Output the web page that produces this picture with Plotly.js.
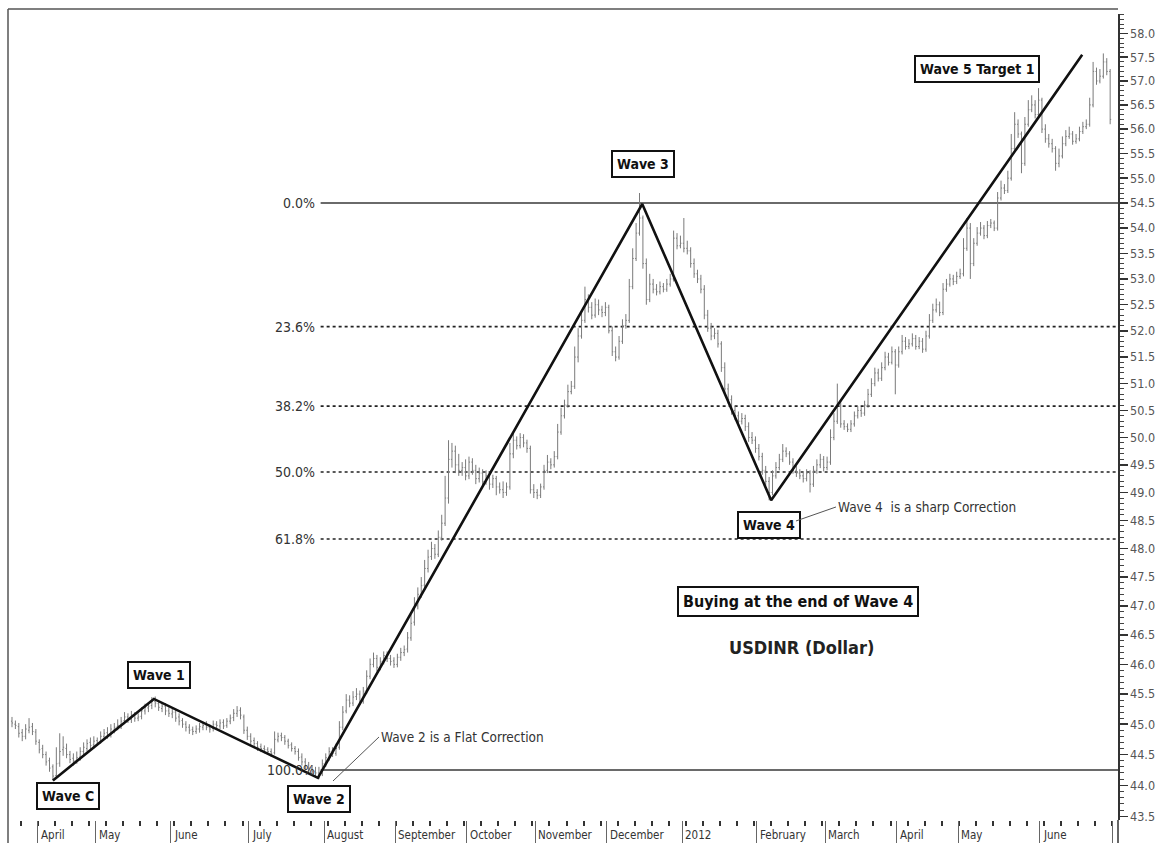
<!DOCTYPE html>
<html><head><meta charset="utf-8">
<script src="https://cdn.plot.ly/plotly-3.0.1.min.js"></script>
<style>html,body{margin:0;padding:0;background:#fff}#chart{width:1159px;height:843px}</style>
</head><body><div id="chart"></div>
<script>
// ---- DATA (USDINR daily bars, trading-day index order, late Mar 2011 .. end Jun 2012) ----
const openP = [45.05,45.00,44.96,44.86,44.80,44.90,44.96,44.87,44.70,44.60,
44.50,44.40,44.30,44.16,44.36,44.58,44.60,44.50,44.44,44.40,
44.46,44.55,44.60,44.70,44.66,44.73,44.72,44.80,44.86,44.83,
44.90,44.96,44.98,45.06,45.12,45.08,45.15,45.10,45.13,45.22,
45.27,45.31,45.38,45.34,45.26,45.30,45.22,45.17,45.20,45.12,
45.06,45.00,44.95,44.91,44.88,44.92,44.95,44.99,44.95,44.93,
45.00,44.97,45.03,44.98,45.05,45.11,45.18,45.23,45.12,44.90,
44.80,44.73,44.68,44.63,44.60,44.58,44.55,44.53,44.74,44.81,
44.78,44.72,44.66,44.60,44.55,44.46,44.38,44.33,44.28,44.23,
44.20,44.19,44.36,44.45,44.56,44.52,44.62,44.95,45.22,45.40,
45.35,45.46,45.50,45.38,45.56,45.80,46.00,46.10,45.95,46.06,
46.15,46.10,46.06,46.00,46.12,46.20,46.26,46.45,46.72,47.00,
47.20,47.36,47.65,47.86,48.00,47.90,48.20,48.45,48.90,49.60,
49.75,49.50,49.40,49.45,49.30,49.55,49.40,49.25,49.35,49.20,
49.30,49.15,49.25,49.10,49.05,49.00,49.10,49.70,49.95,49.85,
50.00,49.90,49.80,49.05,49.00,48.95,49.10,49.40,49.55,49.50,
49.65,50.10,50.40,50.60,50.85,50.95,51.50,51.90,52.20,52.60,
52.45,52.30,52.50,52.40,52.35,52.45,52.00,51.60,51.50,51.80,
52.10,52.20,52.85,53.40,53.90,54.20,53.30,52.60,52.90,52.80,
52.75,52.85,52.80,52.90,53.00,53.80,53.65,53.70,53.60,53.55,
53.30,53.10,53.00,52.80,52.30,52.05,51.90,51.95,51.75,51.30,
50.90,50.70,50.50,50.40,50.30,50.35,50.20,50.00,49.95,49.80,
49.65,49.40,49.20,49.00,49.30,49.45,49.60,49.75,49.70,49.55,
49.40,49.35,49.30,49.25,49.35,49.15,49.40,49.50,49.60,49.45,
49.55,50.00,50.30,50.60,50.25,50.20,50.15,50.25,50.40,50.50,
50.45,50.60,50.80,51.00,51.20,51.10,51.30,51.50,51.40,51.60,
51.35,51.60,51.80,51.70,51.75,51.85,51.70,51.80,51.65,51.90,
52.20,52.40,52.50,52.35,52.80,52.90,53.00,52.95,53.05,53.10,
53.60,54.00,53.30,53.70,53.90,54.00,53.85,54.05,54.10,54.00,
54.60,54.80,54.75,55.00,55.60,56.10,55.90,55.30,56.10,56.40,
56.50,56.30,56.60,56.00,55.80,55.70,55.60,55.30,55.45,55.70,
55.85,55.90,55.75,55.80,55.95,56.05,56.10,56.50,57.20,57.00,
57.10,57.40,57.20];
const highP = [45.12,45.06,45.02,44.92,45.00,45.10,45.02,44.92,44.75,44.66,
44.55,44.45,44.34,44.62,44.85,44.80,44.68,44.56,44.52,44.55,
44.62,44.70,44.75,44.78,44.80,44.78,44.88,44.92,44.95,45.00,
45.02,45.08,45.12,45.20,45.18,45.22,45.20,45.18,45.28,45.34,
45.36,45.45,45.46,45.40,45.36,45.35,45.28,45.26,45.24,45.18,
45.10,45.05,45.00,44.96,44.98,45.02,45.04,45.05,45.00,45.06,
45.05,45.08,45.08,45.10,45.16,45.25,45.30,45.28,45.16,44.96,
44.85,44.78,44.72,44.68,44.65,44.62,44.60,44.88,44.86,44.86,
44.82,44.76,44.70,44.64,44.60,44.52,44.44,44.38,44.33,44.30,
44.30,44.42,44.52,44.62,44.62,44.68,45.05,45.30,45.50,45.48,
45.55,45.60,45.56,45.62,45.90,46.10,46.20,46.16,46.12,46.22,
46.22,46.16,46.12,46.18,46.28,46.32,46.55,46.85,47.15,47.32,
47.50,47.80,47.98,48.12,48.08,48.32,48.60,49.30,49.95,49.90,
49.85,49.70,49.55,49.60,49.65,49.62,49.50,49.45,49.42,49.40,
49.38,49.32,49.30,49.18,49.20,49.18,49.90,50.10,50.02,50.08,
50.06,49.96,49.85,49.15,49.06,49.16,49.50,49.68,49.62,49.75,
50.25,50.55,50.70,50.98,51.05,51.70,52.05,52.40,52.85,52.70,
52.55,52.62,52.60,52.48,52.55,52.50,52.08,51.70,51.90,52.22,
52.32,53.00,53.60,54.10,54.70,54.25,53.40,53.10,53.00,52.90,
52.95,52.92,53.00,53.10,53.95,53.90,53.85,54.20,53.75,53.62,
53.40,53.18,53.08,52.88,52.40,52.15,52.05,52.02,51.80,51.40,
51.00,50.78,50.58,50.48,50.45,50.42,50.28,50.10,50.02,49.88,
49.72,49.48,49.28,49.40,49.55,49.70,49.88,49.82,49.75,49.62,
49.48,49.42,49.36,49.42,49.40,49.48,49.60,49.70,49.66,49.65,
50.15,50.45,51.00,50.65,50.32,50.26,50.32,50.48,50.58,50.56,
50.68,50.90,51.10,51.30,51.28,51.40,51.60,51.58,51.70,51.65,
51.70,51.92,51.88,51.84,51.95,51.92,51.88,51.86,52.00,52.32,
52.52,52.62,52.56,52.92,53.00,53.10,53.08,53.14,53.20,53.80,
54.20,54.10,53.80,54.02,54.12,54.06,54.14,54.18,54.15,54.72,
54.95,54.88,55.15,55.90,56.35,56.20,55.95,56.25,56.60,56.70,
56.60,56.85,56.65,56.10,55.90,55.80,55.65,55.60,55.85,55.98,
56.05,55.96,55.90,56.05,56.15,56.20,56.65,57.40,57.28,57.25,
57.58,57.48,57.25];
const lowP = [44.95,44.92,44.78,44.72,44.75,44.85,44.82,44.66,44.52,44.44,
44.32,44.22,44.08,44.12,44.30,44.48,44.44,44.36,44.32,44.35,
44.40,44.50,44.55,44.58,44.60,44.64,44.68,44.74,44.76,44.78,
44.85,44.90,44.92,45.00,45.02,45.02,45.04,45.05,45.08,45.16,
45.20,45.25,45.28,45.22,45.20,45.15,45.12,45.10,45.04,44.98,
44.94,44.88,44.84,44.82,44.84,44.86,44.90,44.90,44.86,44.88,
44.92,44.92,44.92,44.94,45.00,45.05,45.12,45.08,44.84,44.74,
44.66,44.62,44.56,44.54,44.52,44.50,44.46,44.50,44.70,44.72,
44.66,44.60,44.55,44.50,44.40,44.32,44.26,44.22,44.16,44.14,
44.10,44.15,44.30,44.40,44.46,44.48,44.58,44.90,45.18,45.28,
45.30,45.40,45.32,45.34,45.50,45.75,45.95,45.88,45.90,46.00,
46.04,45.98,45.94,45.95,46.06,46.14,46.20,46.40,46.66,46.94,
47.14,47.30,47.58,47.80,47.82,47.85,48.14,48.40,48.80,49.45,
49.35,49.30,49.30,49.22,49.24,49.32,49.15,49.18,49.10,49.14,
49.05,49.08,48.95,48.98,48.90,48.94,49.05,49.62,49.78,49.80,
49.82,49.72,48.98,48.90,48.88,48.90,49.05,49.35,49.42,49.45,
49.60,50.05,50.35,50.55,50.80,50.90,51.40,51.85,52.15,52.35,
52.22,52.25,52.30,52.26,52.28,51.95,51.52,51.42,51.45,51.75,
52.04,52.15,52.80,53.35,53.85,53.20,52.50,52.55,52.72,52.68,
52.70,52.74,52.75,52.85,52.95,53.58,53.60,53.52,53.48,53.22,
53.02,52.92,52.72,52.22,51.98,51.82,51.84,51.68,51.22,50.82,
50.62,50.42,50.32,50.22,50.24,50.12,49.92,49.88,49.72,49.58,
49.32,49.12,48.86,48.95,49.25,49.40,49.55,49.64,49.50,49.34,
49.28,49.24,49.18,49.20,49.00,49.10,49.34,49.44,49.38,49.40,
49.50,49.95,50.25,50.18,50.14,50.10,50.10,50.20,50.35,50.38,
50.40,50.55,50.75,50.95,51.04,51.05,51.25,51.34,51.36,50.80,
51.30,51.55,51.64,51.65,51.70,51.64,51.65,51.58,51.60,51.85,
52.15,52.35,52.28,52.30,52.75,52.85,52.88,52.90,53.00,53.05,
53.55,53.00,53.25,53.65,53.85,53.78,53.80,54.00,53.94,53.95,
54.55,54.68,54.70,54.95,55.55,55.82,55.10,55.25,56.05,56.35,
56.22,56.25,55.92,55.72,55.62,55.52,55.15,55.22,55.40,55.65,
55.80,55.68,55.70,55.75,55.90,56.00,56.05,56.45,56.92,56.95,
57.05,57.12,56.10];
const closeP = [45.02,44.98,44.85,44.80,44.92,44.95,44.88,44.72,44.58,44.50,
44.38,44.28,44.15,44.35,44.55,44.62,44.50,44.42,44.40,44.45,
44.55,44.62,44.68,44.65,44.72,44.70,44.80,44.85,44.82,44.92,
44.95,44.98,45.05,45.12,45.08,45.15,45.10,45.12,45.22,45.28,
45.30,45.38,45.35,45.28,45.30,45.22,45.18,45.20,45.10,45.05,
45.00,44.95,44.90,44.88,44.92,44.96,44.98,44.95,44.92,45.00,
44.98,45.02,44.97,45.05,45.10,45.18,45.22,45.15,44.90,44.80,
44.72,44.68,44.62,44.60,44.58,44.55,44.52,44.75,44.80,44.78,
44.72,44.65,44.60,44.55,44.45,44.38,44.32,44.28,44.22,44.20,
44.18,44.35,44.45,44.55,44.52,44.60,44.95,45.20,45.40,45.35,
45.45,45.50,45.38,45.55,45.80,46.00,46.10,45.95,46.05,46.15,
46.10,46.05,46.00,46.12,46.20,46.25,46.45,46.70,47.00,47.20,
47.35,47.65,47.85,48.00,47.90,48.20,48.45,48.90,49.60,49.75,
49.50,49.40,49.45,49.30,49.55,49.40,49.25,49.35,49.20,49.30,
49.15,49.25,49.10,49.05,49.00,49.10,49.70,49.95,49.85,50.00,
49.90,49.80,49.05,49.00,48.95,49.10,49.40,49.55,49.50,49.65,
50.10,50.40,50.60,50.85,50.95,51.50,51.90,52.20,52.60,52.45,
52.30,52.50,52.40,52.35,52.45,52.00,51.60,51.50,51.80,52.10,
52.20,52.85,53.40,53.90,54.20,53.30,52.60,52.90,52.80,52.75,
52.85,52.80,52.90,53.00,53.80,53.65,53.70,53.60,53.55,53.30,
53.10,53.00,52.80,52.30,52.05,51.90,51.95,51.75,51.30,50.90,
50.70,50.50,50.40,50.30,50.35,50.20,50.00,49.95,49.80,49.65,
49.40,49.20,49.00,49.30,49.45,49.60,49.75,49.70,49.55,49.40,
49.35,49.30,49.25,49.35,49.15,49.40,49.50,49.60,49.45,49.55,
50.00,50.30,50.60,50.25,50.20,50.15,50.25,50.40,50.50,50.45,
50.60,50.80,51.00,51.20,51.10,51.30,51.50,51.40,51.60,51.35,
51.60,51.80,51.70,51.75,51.85,51.70,51.80,51.65,51.90,52.20,
52.40,52.50,52.35,52.80,52.90,53.00,52.95,53.05,53.10,53.60,
54.00,53.30,53.70,53.90,54.00,53.85,54.05,54.10,54.00,54.60,
54.80,54.75,55.00,55.60,56.10,55.90,55.30,56.10,56.40,56.50,
56.30,56.60,56.00,55.80,55.70,55.60,55.30,55.45,55.70,55.85,
55.90,55.75,55.80,55.95,56.05,56.10,56.50,57.20,57.00,57.10,
57.40,57.20,56.20];

// month boundaries (trading-day index) and their labels
const monthPos = [7.6,24.6,46.6,69.4,91.6,112.4,133.4,153.4,174.4,196.6,218.4,238.4,259.4,277.4,301.4,322.8];
const monthLabels = ["April","May","June","July","August","September","October","November","December","2012","February","March","April","May","June",""];

// Elliott wave pivot points (trading-day index, price)
const waveIdx = [12, 41.6, 89.7, 184.8, 222.6, 313.8];
const wavePrice = [44.08, 45.42, 44.12, 54.48, 48.86, 57.55];
const waveLabels = ["Wave C","Wave 1","Wave 2","Wave 3","Wave 4","Wave 5 Target 1"];

// Fibonacci retracement levels
const fibLabels = ["0.0%","23.6%","38.2%","50.0%","61.8%","100.0%"];
const fibPrices = [54.50, 52.08, 50.58, 49.37, 48.17, 44.25];
const fibStartIdx = 90.5;

// ---- CHART ----
const idx = closeP.map((_, i) => i);
const xRange = [-1.17, 324.3];
const narrow = "Liberation Sans Narrow, Arial Narrow, DejaVu Sans Condensed, sans-serif";

const traces = [
  {type: "ohlc", x: idx, open: openP, high: highP, low: lowP, close: closeP,
   increasing: {line: {color: "#7a7a7a", width: 1}},
   decreasing: {line: {color: "#7a7a7a", width: 1}},
   tickwidth: 0.3, hoverinfo: "skip", showlegend: false},
  {type: "scatter", mode: "lines", x: waveIdx, y: wavePrice,
   line: {color: "#111", width: 2.6}, hoverinfo: "skip", showlegend: false}
];

const shapes = [];
fibLabels.forEach((lab, i) => {
  const solid = (lab === "0.0%" || lab === "100.0%");
  shapes.push({type: "line", xref: "x", yref: "y", x0: fibStartIdx, x1: xRange[1],
    y0: fibPrices[i], y1: fibPrices[i], layer: "below",
    line: {color: solid ? "#6a6a6a" : "#222", width: solid ? 2 : 1.6, dash: solid ? "solid" : "dot"}});
});
// frame lines
shapes.push({type: "line", xref: "paper", yref: "paper", x0: 0, x1: 0, y0: -0.03, y1: 1.0062, line: {color: "#555", width: 1.5}});
shapes.push({type: "line", xref: "paper", yref: "paper", x0: 0, x1: 1, y0: 1.0062, y1: 1.0062, line: {color: "#555", width: 1.5}});
shapes.push({type: "line", xref: "paper", yref: "paper", x0: 1, x1: 1, y0: 0, y1: -0.03, line: {color: "#333", width: 1.5}});

const annotations = [];
const boxOffsets = [[15, -16], [5, 24], [1, -21], [1, 40], [-2, -25], [-105, -14]];
waveLabels.forEach((lab, i) => {
  annotations.push({x: waveIdx[i], y: Math.log10(wavePrice[i]), xref: "x", yref: "y",
    text: "<b>" + lab + "</b>", showarrow: false, xanchor: "center", yanchor: "middle",
    xshift: boxOffsets[i][0], yshift: boxOffsets[i][1],
    font: {family: narrow, size: 14, color: "#111"},
    bgcolor: "#fff", bordercolor: "#111", borderwidth: 2, borderpad: 4});
});
fibLabels.forEach((lab, i) => {
  annotations.push({x: fibStartIdx, y: Math.log10(fibPrices[i]), xref: "x", yref: "y",
    text: lab, showarrow: false, xanchor: "right", yanchor: "middle", xshift: -4,
    font: {family: narrow, size: 14, color: "#333"}});
});
monthLabels.forEach((lab, i) => {
  if (!lab) return;
  annotations.push({x: monthPos[i], y: 0, xref: "x", yref: "paper", text: lab,
    showarrow: false, xanchor: "left", yanchor: "top", xshift: 1, yshift: -6,
    font: {family: narrow, size: 11.5, color: "#333"}});
});
annotations.push({x: 0.2928, y: 0.0484, xref: "paper", yref: "paper",
  text: "Wave 2 is a Flat Correction", showarrow: true, arrowhead: 0, arrowwidth: 1, arrowcolor: "#555",
  ax: 46, ay: -44, xanchor: "left", yanchor: "middle",
  font: {family: narrow, size: 13.5, color: "#333"}});
annotations.push({x: 0.7099, y: 0.3710, xref: "paper", yref: "paper",
  text: "Wave 4  is a sharp Correction", showarrow: true, arrowhead: 0, arrowwidth: 1, arrowcolor: "#555",
  ax: 40, ay: -14, xanchor: "left", yanchor: "middle",
  font: {family: narrow, size: 13.5, color: "#333"}});
annotations.push({x: 0.7117, y: 0.2717, xref: "paper", yref: "paper",
  text: "<b>Buying at the end of Wave 4</b>", showarrow: false, xanchor: "center", yanchor: "middle",
  font: {family: narrow, size: 16, color: "#111"},
  bgcolor: "#fff", bordercolor: "#111", borderwidth: 2, borderpad: 4});
annotations.push({x: 0.7153, y: 0.2134, xref: "paper", yref: "paper",
  text: "<b>USDINR (Dollar)</b>", showarrow: false, xanchor: "center", yanchor: "middle",
  font: {family: narrow, size: 18, color: "#222"}});

const layout = {
  width: 1159, height: 843,
  margin: {l: 8, r: 41, t: 14, b: 23, pad: 0},
  paper_bgcolor: "#fff", plot_bgcolor: "#fff",
  showlegend: false, hovermode: false,
  xaxis: {range: xRange, showgrid: false, zeroline: false, showline: false,
    rangeslider: {visible: false},
    tickmode: "array", tickvals: monthPos, ticktext: monthPos.map(() => ""),
    ticks: "outside", ticklen: 23, tickwidth: 1, tickcolor: "#666",
    minor: {tickmode: "linear", tick0: 2.6, dtick: 5, ticks: "outside", ticklen: 5, tickwidth: 2, tickcolor: "#333"}},
  yaxis: {type: "log", side: "right", range: [Math.log10(43.443), Math.log10(58.42)],
    showgrid: false, zeroline: false, showline: true, linecolor: "#333", linewidth: 1.5,
    tickmode: "linear", tick0: 0, dtick: "L0.5", tickformat: ".1f",
    ticks: "outside", ticklen: 8, tickwidth: 1.5, tickcolor: "#333",
    tickfont: {family: narrow, size: 12.5, color: "#555"},
    minor: {dtick: "L0.1", ticks: "outside", ticklen: 4, tickwidth: 1, tickcolor: "#444"}},
  shapes: shapes,
  annotations: annotations
};

Plotly.newPlot("chart", traces, layout, {staticPlot: true, displayModeBar: false});
</script>
</body></html>
